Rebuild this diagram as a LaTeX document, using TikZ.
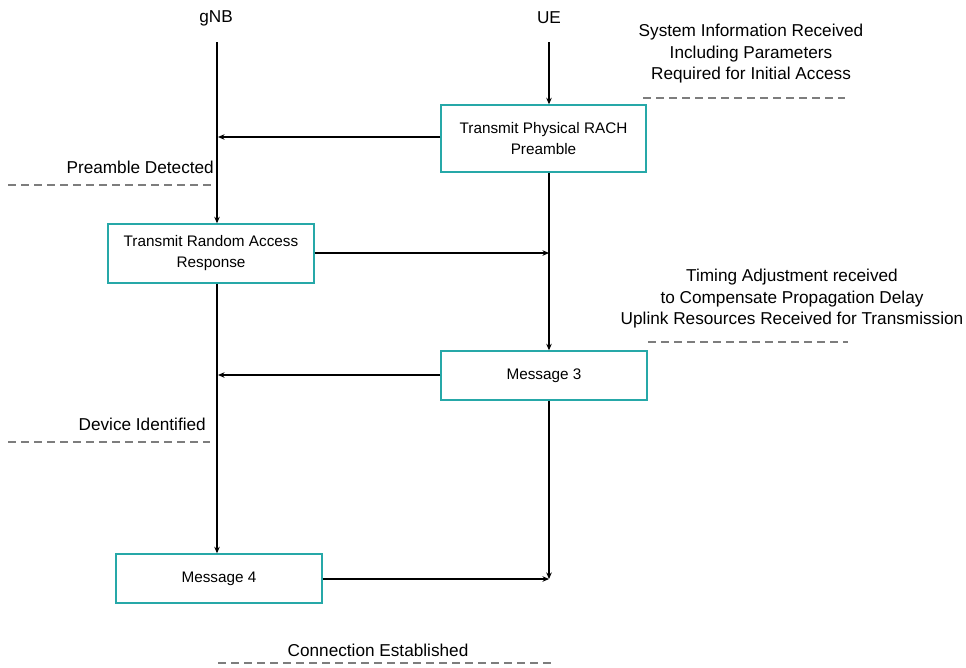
\documentclass[tikz,border=0pt]{standalone}
\usepackage{fontspec}
\setmainfont{Liberation Sans}
\usetikzlibrary{arrows.meta}
\definecolor{boxteal}{RGB}{38,168,168}
\definecolor{dashgray}{RGB}{125,125,125}
\begin{document}
\begin{tikzpicture}[x=1pt,y=-1pt,
  msgbox/.style={draw=boxteal,line width=1.4pt,fill=white,inner sep=0pt,align=center,font=\fontsize{15.3}{21}\selectfont},
  lbl/.style={inner sep=0pt,font=\fontsize{17.2}{21.5}\selectfont},
  conn/.style={line width=1.3pt,-{Stealth[length=6.5pt,width=5.5pt]}},
  sep/.style={draw=dashgray,line width=1.3pt,dash pattern=on 8pt off 5pt}]
\useasboundingbox (0,0) rectangle (966,667);
% lifeline labels
\node[lbl] (gnb) at (216,18) {gNB};
\node[lbl] (ue) at (549,18) {UE};
% boxes
\node[msgbox,minimum width=205pt,minimum height=67pt] (b1) at (543.5,138.5) {Transmit Physical RACH\\Preamble};
\node[msgbox,minimum width=206pt,minimum height=59pt] (b2) at (211,253.5) {Transmit Random Access\\Response};
\node[msgbox,minimum width=206pt,minimum height=49pt] (b3) at (544,375.5) {Message 3};
\node[msgbox,minimum width=206pt,minimum height=49pt] (b4) at (219,578.5) {Message 4};
% lifeline coordinates
\coordinate (g0) at (217,42);
\coordinate (u0) at (549,42);
\coordinate (g1) at (218,137);
\coordinate (u2) at (549,253);
\coordinate (g3) at (218,375);
\coordinate (u4) at (549,579);
% connectors
\draw[conn] (g0) -- (g0 |- b2.north);
\draw[conn] (u0) -- (u0 |- b1.north);
\draw[conn] (b1.west |- g1) -- (g1);
\draw[conn] (b1.south -| u0) -- (b3.north -| u0);
\draw[conn] (b2.east |- u2) -- (u2);
\draw[conn] (b2.south -| g0) -- (b4.north -| g0);
\draw[conn] (b3.west |- g3) -- (g3);
\draw[conn] (b3.south -| u0) -- (u4);
\draw[conn] (b4.east |- u4) -- (u4);
% annotations
\node[lbl,align=center] (t1) at (751,54) {System Information Received\\Including Parameters\\Required for Initial Access};
\draw[sep] (643,98) -- (845,98);
\node[lbl,anchor=east] (t2) at (214,167) {Preamble Detected};
\draw[sep] (8,185) -- (212,185);
\node[lbl,align=center] (t3) at (792,299) {Timing Adjustment received\\to Compensate Propagation Delay\\Uplink Resources Received for Transmission};
\draw[sep] (648,342) -- (848,342);
\node[lbl,anchor=east] (t4) at (206,424) {Device Identified};
\draw[sep] (8,442) -- (210,442);
\node[lbl] (t5) at (378,650) {Connection Established};
\draw[sep] (218,663) -- (552,663);
\end{tikzpicture}
\end{document}
